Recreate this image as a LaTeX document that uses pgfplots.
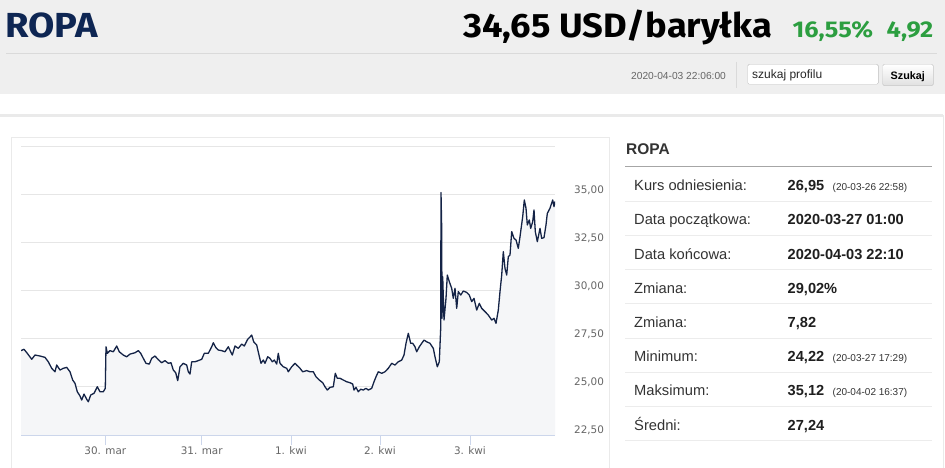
\documentclass[border=0pt]{standalone}
\usepackage{pgfplots}
\pgfplotsset{compat=1.18}
\usepackage{pgfplotstable}
\usepackage{fontspec}
\setmainfont{Liberation Sans}
\newfontfamily\dejavu{DejaVu Sans}
\newfontfamily\fira{Fira Sans}
\definecolor{hdrbg}{RGB}{239,239,239}
\definecolor{divcol}{RGB}{218,218,218}
\definecolor{ropanavy}{RGB}{14,38,83}
\definecolor{upgreen}{RGB}{44,158,64}
\definecolor{c666}{RGB}{102,102,102}
\definecolor{c333}{RGB}{51,51,51}
\definecolor{gridcol}{RGB}{230,230,230}
\definecolor{tickcol}{RGB}{204,214,235}
\definecolor{areacol}{RGB}{245,246,248}
\definecolor{linecol}{RGB}{20,35,70}
\definecolor{rowsep}{RGB}{236,236,236}
\definecolor{panelbd}{RGB}{234,234,234}
\pgfplotstableread{
x y
21 26.89
24 26.96
27.3 26.75
31.7 26.44
35 26.66
40 26.61
45 26.54
48.3 26.31
51.7 25.97
55 25.79
56.7 26.14
60 25.88
63.3 25.97
66.7 26.02
70 25.79
72.7 25.36
75 25.19
77.3 24.75
80 24.53
81.7 24.32
84 24.63
86.7 24.36
88.3 24.23
90.7 24.58
94 24.67
97.3 25.01
100 24.75
103.3 24.75
105.3 24.93
106 27.09
107.3 26.75
110 26.89
113.3 26.83
116.7 27.13
119.3 26.83
123.3 26.66
126.7 26.57
130 26.71
135 26.78
138.3 26.89
140.7 26.75
143.3 26.49
146 26.23
149.3 26.19
151.7 26.49
155 26.61
158.3 26.42
161.7 26.26
165 26.37
168.3 26.23
171 26.26
173.3 25.88
175.7 25.74
177.7 25.33
180 26.05
183.3 26.23
186.7 26.14
188.3 25.79
190 25.67
191.7 26.31
195 26.31
198.3 26.37
201.7 26.44
204.3 26.75
208.3 26.75
211.7 27.09
213.3 27.30
215.7 27.06
218.3 26.92
221.7 26.89
225 26.83
228.3 27.09
232.3 26.66
235 27.13
238.3 27.01
241.7 27.23
244.3 27.13
247.7 27.48
249.7 27.58
251.7 27.70
253.7 27.35
256.7 27.18
259 26.66
261 26.23
263.3 26.40
265 26.23
267.7 26.57
270 26.49
272.3 26.31
274.3 26.40
276.7 26.19
278.3 26.75
280 26.23
283.3 26.05
286.7 25.97
288.3 25.79
291.7 26.05
295 26.23
296.7 26.14
300 25.97
302.7 25.79
306.7 25.85
310 25.79
313.3 25.79
316 25.53
319.3 25.36
322.7 25.22
325 25.01
327.3 24.84
330 24.98
333.3 25.01
335.3 25.71
337.3 25.45
340 25.45
343.3 25.36
346.7 25.27
350 25.22
352.7 25.15
354 24.84
356 24.98
358.3 24.75
360.7 24.88
363.3 24.84
366 24.93
368.3 24.84
371.7 24.93
374 25.27
376 25.53
378.3 25.79
381.7 25.71
385 25.79
388.3 25.97
391.7 26.23
395 26.14
398.3 26.31
401.7 26.40
404 26.66
406 27.27
408.3 27.79
410.7 27.27
412.7 27.27
415 27.09
416.7 26.83
419.3 27.09
421.7 27.27
424 27.44
426.7 27.35
430 27.27
433.3 27.01
435 26.57
437.3 26.05
439.3 26.31
440.7 28.05
441 35.12
441.7 33.25
442 28.57
442.7 30.74
444 28.48
446 29.61
447.3 30.82
449.3 30.48
451.7 30.13
453.3 29.61
455 30.13
456.7 29.09
458.3 29.96
460.7 29.78
463.3 29.99
466.7 29.92
469.3 29.78
471.7 29.44
474 29.61
476.7 29.00
479.3 29.35
481.7 29.09
485 28.92
488.3 28.74
491.7 28.48
494 28.57
496 28.31
498.3 29.00
500 29.96
501.7 30.82
503.3 32.04
505 31.17
506.7 30.82
508.3 31.78
510 31.87
511.7 33.08
514 32.73
516 32.65
518.3 32.21
520 32.82
522.7 33.86
524.3 34.73
526 34.30
527.3 33.43
529.3 33.69
530.7 33.25
532.7 33.60
534 34.21
535.3 33.08
537.3 32.56
540 33.25
541.7 32.73
544 32.77
546 33.43
547.3 34.03
550 34.30
552.7 34.73
554 34.38
555 34.65
}\oildata
\newcommand\statrow[4]{%
  \node[anchor=base west, inner sep=0pt, font=\fontsize{14.7}{17}\selectfont, text=c333] at (634,#1) {#2};
  \node[anchor=base west, inner sep=0pt, font=\bfseries\fontsize{14.6}{17}\selectfont, text=black!88] at (787.5,#1) {#3};
  \node[anchor=base west, inner sep=0pt, font=\fontsize{10}{12}\selectfont, text=c333] at (832.5,#1) {#4};
  \draw[rowsep, line width=1pt] (625,#1+10.5) -- (931.7,#1+10.5);
}
\begin{document}
\begin{tikzpicture}[x=1pt,y=-1pt]
\useasboundingbox (0,0) rectangle (945,468);
\fill[white] (0,0) rectangle (945,468);
% header
\fill[hdrbg] (0,0) rectangle (945,94.5);
\draw[divcol, line width=1pt] (6,53.5) -- (937,53.5);
\draw[divcol, line width=1pt] (736.7,61.7) -- (736.7,87.7);
\node[anchor=base west, inner sep=0pt, font=\fira\bfseries\fontsize{34.8}{40}\selectfont, text=ropanavy] at (5,37.3) {\scalebox{1.095}[1]{ROPA}};
\node[anchor=base west, inner sep=0pt, font=\fira\bfseries\fontsize{33.8}{40}\selectfont, text=black] at (463,37.3) {\scalebox{1.073}[1]{34,65 USD/baryłka}};
\node[anchor=base west, inner sep=0pt, font=\fira\bfseries\fontsize{22.8}{26}\selectfont, text=upgreen] at (792.5,37.3) {\scalebox{1.11}[1]{16,55\%}};
\node[anchor=base west, inner sep=0pt, font=\fira\bfseries\fontsize{22.8}{26}\selectfont, text=upgreen] at (886.5,37.3) {\scalebox{1.11}[1]{4,92}};
\node[anchor=base west, inner sep=0pt, font=\fontsize{10.2}{12}\selectfont, text=c666] at (631,80) {2020-04-03 22:06:00};
\draw[fill=white, draw=black!25, rounded corners=1.5pt] (747.7,64.3) rectangle (878.3,84.3);
\node[anchor=base west, inner sep=0pt, font=\fontsize{12}{14}\selectfont, text=black!85] at (752,79) {szukaj profilu};
\draw[top color=white, bottom color=black!12, draw=black!22, rounded corners=1.5pt] (882.7,64.3) rectangle (933.3,85.7);
\node[anchor=base west, inner sep=0pt, font=\bfseries\fontsize{10.8}{13}\selectfont, text=black] at (890.5,80) {Szukaj};
% outer panels
\draw[panelbd, line width=2.5pt] (0,115.5) -- (943,115.5);
\draw[panelbd, line width=1pt] (943,115.5) -- (943,468);
\draw[panelbd, line width=1pt] (11,137.3) -- (609,137.3) -- (609,470);
\draw[panelbd, line width=1pt] (11,137.3) -- (11,470);
% chart
\begin{axis}[
  at={(21pt,-435pt)}, anchor=south west,
  width=534pt, height=288.3pt, scale only axis,
  xmin=21, xmax=555, ymin=22.5, ymax=37.5,
  axis line style={draw=none},
  ytick={22.5,25,27.5,30,32.5,35,37.5},
  yticklabels={22{,}50,25{,}00,27{,}50,30{,}00,32{,}50,35{,}00,{}},
  ymajorgrids, grid style={gridcol, line width=1pt},
  yticklabel pos=right,
  ytick style={draw=none},
  xtick={105.3,201.7,291,380,470},
  xticklabels={30. mar,31. mar,1. kwi,2. kwi,3. kwi},
  xtick pos=bottom,
  xtick style={draw=tickcol, line width=1pt},
  tick align=outside, major tick length=10pt,
  xticklabel style={font=\dejavu\fontsize{10.4}{12}\selectfont, text=c666, anchor=base, inner sep=0pt, yshift=-9.5pt},
  yticklabel style={font=\dejavu\fontsize{10.4}{12}\selectfont, text=c666, anchor=west, inner sep=0pt, xshift=9pt, yshift=4.5pt},
]
\addplot[draw=none, fill=areacol] table[x=x,y=y]{\oildata} \closedcycle;
\addplot[linecol, line width=1.3pt, line join=round] table[x=x,y=y]{\oildata};
\draw[tickcol, line width=1pt] (rel axis cs:0,0) -- (rel axis cs:1,0);
\end{axis}
% stats panel
\node[anchor=base west, inner sep=0pt, font=\bfseries\fontsize{15.5}{18}\selectfont, text=c333] at (626,155) {ROPA};
\draw[black!35, line width=1.5pt] (625,166.3) -- (931.7,166.3);
\statrow{190.7}{Kurs odniesienia:}{26,95}{(20-03-26 22:58)}
\statrow{224.9}{Data początkowa:}{2020-03-27 01:00}{}
\statrow{259.1}{Data końcowa:}{2020-04-03 22:10}{}
\statrow{293.3}{Zmiana:}{29,02\%}{}
\statrow{327.5}{Zmiana:}{7,82}{}
\statrow{361.7}{Minimum:}{24,22}{(20-03-27 17:29)}
\statrow{395.9}{Maksimum:}{35,12}{(20-04-02 16:37)}
\statrow{430.1}{Średni:}{27,24}{}
\end{tikzpicture}
\end{document}
